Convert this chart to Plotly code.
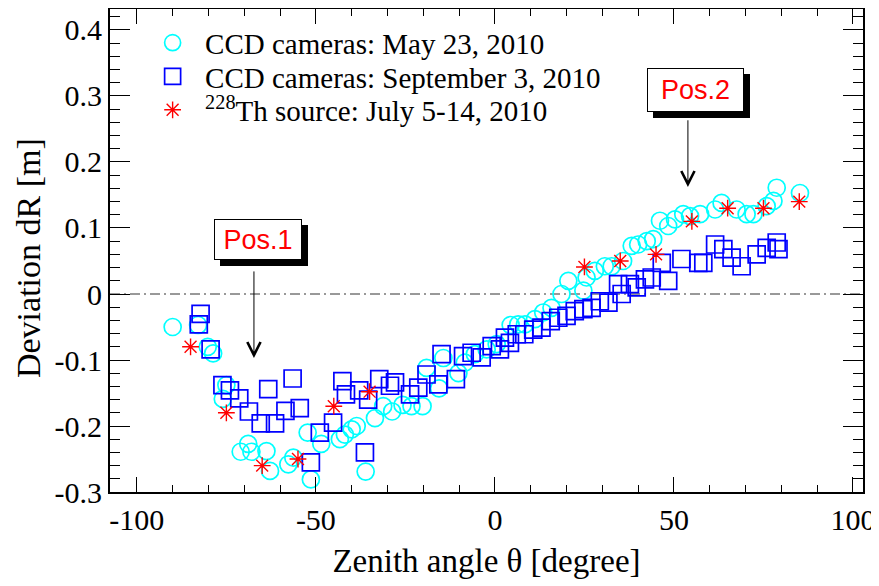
import plotly.graph_objects as go

# ---- data ----
x_may = [-90.0, -82.9, -80.2, -78.7, -76.0, -75.0, -71.0, -68.9, -68.0, -63.8, -62.8,
         -57.7, -56.3, -52.3, -51.4, -48.5, -43.3, -41.9, -40.0, -38.6, -36.1, -33.5,
         -31.2, -28.7, -25.8, -23.3, -20.2, -19.1, -15.6, -14.4, -10.2, -8.4, -5.6,
         -2.3, 0.5, 4.4, 6.5, 8.4, 11.2, 13.5, 15.8, 18.6, 20.5, 24.7, 25.6, 27.9,
         30.7, 32.6, 35.8, 38.2, 40.0, 42.4, 44.2, 46.1, 48.4, 50.3, 52.6, 54.5,
         57.3, 61.5, 63.3, 67.5, 70.3, 72.2, 75.9, 77.8, 78.7, 85.2]
y_may = [-0.050, -0.047, -0.080, -0.090, -0.159, -0.138, -0.239, -0.227, -0.239, -0.238, -0.268,
         -0.258, -0.248, -0.210, -0.281, -0.227, -0.220, -0.213, -0.205, -0.200, -0.269, -0.188,
         -0.170, -0.178, -0.168, -0.170, -0.170, -0.112, -0.143, -0.097, -0.120, -0.104, -0.091,
         -0.084, -0.076, -0.047, -0.046, -0.046, -0.038, -0.028, -0.021, 0.000, 0.020, 0.005, 0.025, 0.035,
         0.042, 0.042, 0.050, 0.073, 0.075, 0.080, 0.083, 0.111, 0.103, 0.113, 0.121, 0.118,
         0.121, 0.128, 0.138, 0.128, 0.121, 0.121, 0.133, 0.141, 0.161, 0.153]

x_sep = [-82.2, -82.7, -79.4, -76.1, -74.0, -71.4, -68.7, -65.4, -63.3, -61.4, -58.5,
         -56.5, -54.5, -51.4, -48.9, -45.2, -42.6, -41.6, -37.9, -36.3, -35.4, -32.3,
         -29.3, -27.9, -23.7, -21.4, -19.1, -15.8, -14.9, -10.9, -8.9, -6.5, -3.7,
         -0.9, 1.4, 2.8, 4.2, 6.1, 8.2, 10.7, 13.0, 15.6, 17.7, 20.0, 22.3, 24.7,
         27.0, 29.3, 31.7, 34.4, 35.4, 37.7, 39.6, 41.9, 43.8, 46.6, 48.4, 52.1,
         56.8, 58.2, 61.5, 63.8, 66.1, 68.9, 73.1, 75.9, 78.7, 79.2]
y_sep = [-0.030, -0.046, -0.084, -0.138, -0.146, -0.158, -0.178, -0.196, -0.144, -0.196, -0.177,
         -0.128, -0.173, -0.255, -0.210, -0.195, -0.132, -0.152, -0.146, -0.240, -0.160, -0.129,
         -0.139, -0.134, -0.152, -0.142, -0.122, -0.137, -0.091, -0.129, -0.094, -0.089, -0.096,
         -0.079, -0.084, -0.066, -0.074, -0.061, -0.061, -0.054, -0.051, -0.041, -0.036, -0.033, -0.026, -0.023,
         -0.021, -0.011, -0.013, 0.015, 0.000, 0.015, 0.010, 0.022, 0.025, 0.047, 0.020, 0.053,
         0.047, 0.047, 0.075, 0.068, 0.055, 0.042, 0.060, 0.070, 0.078, 0.068]

x_th = [-85, -75, -65, -55, -45, -35, 25, 35, 45, 55, 65, 75, 85]
y_th = [-0.080, -0.180, -0.260, -0.250, -0.170, -0.148, 0.041, 0.050, 0.060, 0.110, 0.130, 0.130, 0.140]

x_tickvals = [-100, -50, 0, 50, 100]
x_ticktext = ["-100", "-50", "0", "50", "100"]
y_tickvals = [-0.3, -0.2, -0.1, 0, 0.1, 0.2, 0.3, 0.4]
y_ticktext = ["-0.3", "-0.2", "-0.1", "0", "0.1", "0.2", "0.3", "0.4"]

legend_names = ["CCD cameras: May 23, 2010",
                "CCD cameras: September 3, 2010",
                "<sup>228</sup>Th source: July 5-14, 2010"]

x_range = [-107.5, 102.8]
y_range = [-0.3, 0.4318]

SERIF = "Liberation Serif"
SANS = "Liberation Sans"

fig = go.Figure()
fig.add_trace(go.Scatter(x=x_may, y=y_may, mode="markers", name=legend_names[0], legend="legend",
                         marker=dict(symbol="circle-open", size=17, color="#00FFFF",
                                     line=dict(width=1.7, color="#00FFFF"))))
fig.add_trace(go.Scatter(x=x_sep, y=y_sep, mode="markers", name=legend_names[1], legend="legend2",
                         marker=dict(symbol="square-open", size=17, color="#0000FF",
                                     line=dict(width=1.7, color="#0000FF"))))
fig.add_trace(go.Scatter(x=x_th, y=y_th, mode="markers", name=legend_names[2], legend="legend3",
                         marker=dict(symbol="asterisk-open", size=14, color="#FF0000",
                                     line=dict(width=1.4, color="#FF0000"))))

# dash-dot reference line at zero
fig.add_shape(type="line", xref="paper", yref="y", x0=0, x1=1, y0=0, y1=0,
              line=dict(color="#333333", width=1, dash="10px,4px,2px,4px"), layer="below")

# position labels with shadow and arrows
labels = [("Pos.1", -66.2, 0.0826, 82, 35, -67.3, 0.038, -0.097),
          ("Pos.2", 56.0, 0.309, 91, 38, 53.9, 0.267, 0.162)]
for text, lx, ly, w, h, ax_, ytail, yhead in labels:
    fig.add_annotation(x=lx, y=ly, xref="x", yref="y", text=text, showarrow=False,
                       font=dict(family=SANS, size=27, color="black"),
                       bgcolor="black", bordercolor="black", borderwidth=1, borderpad=2,
                       width=w, height=h, xshift=6, yshift=-6)
    fig.add_annotation(x=lx, y=ly, xref="x", yref="y", text=text, showarrow=False,
                       font=dict(family=SANS, size=27, color="#FF0000"),
                       bgcolor="white", bordercolor="black", borderwidth=1, borderpad=2,
                       width=w, height=h)
    fig.add_annotation(x=ax_, y=yhead, xref="x", yref="y", ax=ax_, ay=ytail,
                       axref="x", ayref="y", text=" ", showarrow=True,
                       font=dict(size=2),
                       arrowhead=5, arrowsize=2.6, arrowwidth=1, arrowcolor="black")

# y axis title as a rotated annotation
fig.add_annotation(x=-0.1075, y=0.4845, xref="paper", yref="paper", text="Deviation dR [m]",
                   textangle=-90, showarrow=False, xanchor="center", yanchor="middle",
                   font=dict(family=SERIF, size=34, color="black"))

axis_common = dict(showgrid=False, zeroline=False, showline=True, linecolor="black",
                   linewidth=2, mirror="allticks", ticks="inside", tickcolor="black",
                   tickwidth=1, automargin=False,
                   tickfont=dict(family=SERIF, size=30, color="black"))

fig.update_xaxes(range=x_range, tickmode="array", tickvals=x_tickvals, ticktext=x_ticktext,
                 ticklen=15,
                 minor=dict(ticks="inside", ticklen=7, tickmode="linear", tick0=0, dtick=10,
                            tickcolor="black", tickwidth=1),
                 title=dict(text="Zenith angle θ [degree]",
                            font=dict(family=SERIF, size=33, color="black"), standoff=14),
                 **axis_common)
fig.update_yaxes(range=y_range, tickmode="array", tickvals=y_tickvals, ticktext=y_ticktext,
                 ticklen=20,
                 minor=dict(ticks="inside", ticklen=10, tickmode="linear", tick0=0, dtick=0.02,
                            tickcolor="black", tickwidth=1),
                 **axis_common)

leg_common = dict(xanchor="left", yanchor="middle", bgcolor="rgba(0,0,0,0)", borderwidth=0,
                  font=dict(family=SERIF, size=29, color="black"), itemsizing="trace",
                  itemwidth=55)
fig.update_layout(
    width=871, height=578,
    margin=dict(l=102, r=16, t=1, b=94, autoexpand=False),
    paper_bgcolor="white", plot_bgcolor="white",
    font=dict(family=SERIF, color="black"),
    showlegend=True,
    legend=dict(x=0.040, y=0.930, **leg_common),
    legend2=dict(x=0.040, y=0.860, **leg_common),
    legend3=dict(x=0.040, y=0.791, **leg_common),
)

fig.write_html("out.html")
